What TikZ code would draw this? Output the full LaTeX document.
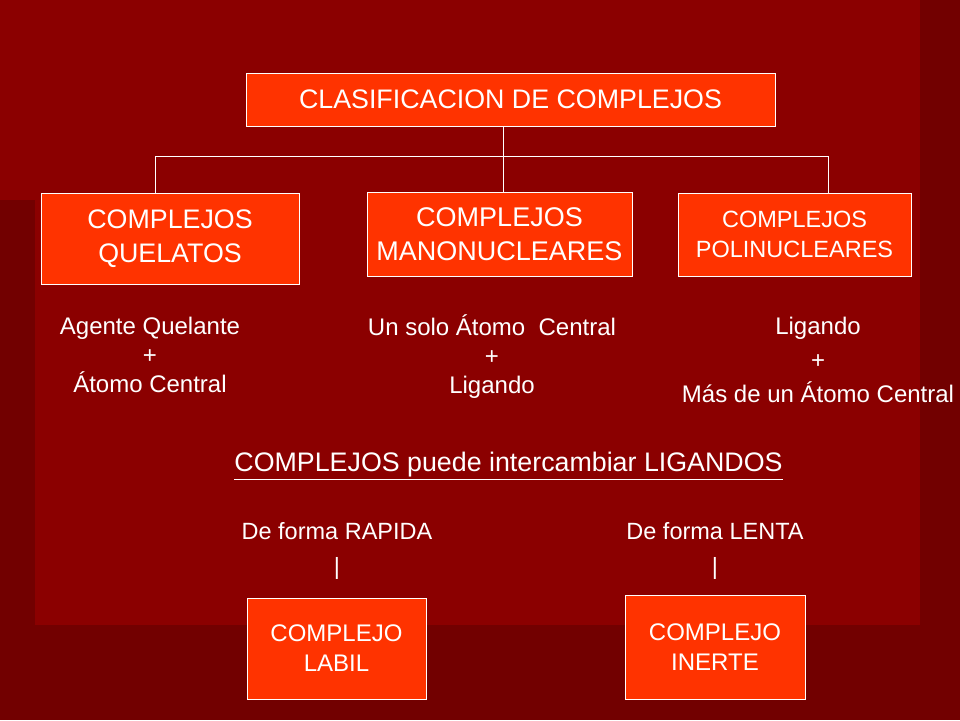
\documentclass[tikz,border=0pt]{standalone}
\usepackage{fontspec}
\setmainfont{Liberation Sans}
\definecolor{outerbg}{HTML}{720000}
\definecolor{innerbg}{HTML}{8B0000}
\definecolor{boxfill}{HTML}{FF3300}
\tikzset{
  box/.style={draw=white, fill=boxfill, text=white, align=center, inner sep=0pt},
  txt/.style={text=white, align=center, inner sep=0pt},
  link/.style={draw=white, line width=1pt}
}
\begin{document}
\begin{tikzpicture}[x=1pt, y=-1pt]
\fill[outerbg] (0,0) rectangle (960,720);
\fill[innerbg] (0,0) rectangle (920,200);
\fill[innerbg] (35,0) rectangle (920,625);
\useasboundingbox (0,0) rectangle (960,720);
% top level
\node[box, minimum width=529pt, minimum height=53pt, font=\fontsize{26.8}{30}\selectfont] (clas) at (510.5,99.5) {CLASIFICACION DE COMPLEJOS};
\node[box, minimum width=258pt, minimum height=91pt, font=\fontsize{26.8}{34}\selectfont] (quel) at (170,238.5) {COMPLEJOS\\QUELATOS};
\node[box, minimum width=265pt, minimum height=84pt, font=\fontsize{27}{34}\selectfont] (mano) at (499.5,234) {COMPLEJOS\\MANONUCLEARES};
\node[box, minimum width=233pt, minimum height=83pt, font=\fontsize{23.5}{30}\selectfont] (poli) at (794.5,234.5) {COMPLEJOS\\POLINUCLEARES};
\coordinate (hub) at (503,156);
\coordinate (hubl) at (155,156);
\coordinate (hubr) at (828,156);
\draw[link] (clas.south -| hub) -- (hub);
\draw[link] (hub) -- (mano.north -| hub);
\draw[link] (hubl) -- (hubr);
\draw[link] (hubl) -- (quel.north -| hubl);
\draw[link] (hubr) -- (poli.north -| hubr);
% descriptions
\node[txt, font=\fontsize{24}{29}\selectfont] (dquel) at (150,355) {Agente Quelante\\+\\Átomo Central};
\node[txt, font=\fontsize{24}{29}\selectfont] (dmano) at (492,357) {Un solo Átomo~~Central\\+\\Ligando};
\node[txt, font=\fontsize{24}{34}\selectfont] (dpoli) at (818,360) {Ligando\\+\\Más de un Átomo Central};
% exchange
\node[txt, font=\fontsize{26.8}{30}\selectfont] (inter) at (508.5,466) {\underline{COMPLEJOS puede intercambiar LIGANDOS}};
\node[txt, font=\fontsize{23.5}{26}\selectfont] (rap) at (337,531) {De forma RAPIDA};
\node[txt, font=\fontsize{23.5}{26}\selectfont] (len) at (715,531) {De forma LENTA};
\node[txt, font=\fontsize{23.5}{26}\selectfont] (barl) at (337,568) {|};
\node[txt, font=\fontsize{23.5}{26}\selectfont] (barr) at (715,568) {|};
\node[box, minimum width=179pt, minimum height=101pt, font=\fontsize{24}{30}\selectfont] (labil) at (336.5,648.5) {COMPLEJO\\LABIL};
\node[box, minimum width=180pt, minimum height=104pt, font=\fontsize{24}{30}\selectfont] (inerte) at (715,647) {COMPLEJO\\INERTE};
\end{tikzpicture}
\end{document}
